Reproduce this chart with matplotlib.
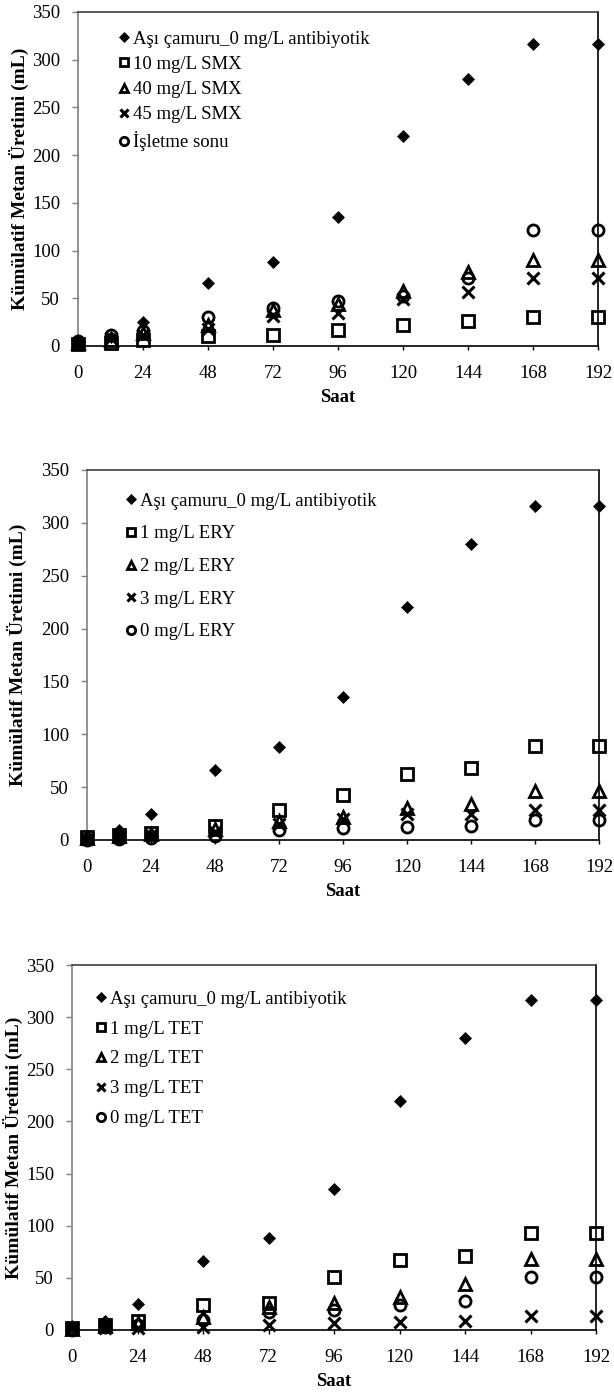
import matplotlib
matplotlib.use("Agg")
import matplotlib.pyplot as plt

plt.rcParams['font.family'] = ['Liberation Serif', 'DejaVu Serif']

saat = [0, 12, 24, 48, 72, 96, 120, 144, 168, 192]
x_ticks = [0, 24, 48, 72, 96, 120, 144, 168, 192]
y_ticks = [0, 50, 100, 150, 200, 250, 300, 350]

asi_camuru = [4, 9, 25, 66, 88, 135, 220, 280, 316, 316]

# Panel 1: SMX
smx_labels = ["Aşı çamuru_0 mg/L antibiyotik", "10 mg/L SMX", "40 mg/L SMX",
              "45 mg/L SMX", "İşletme sonu"]
smx_10 = [2, 3, 6, 10, 12, 17, 22, 26, 30, 30]
smx_40 = [3, 6, 14, 22, 38, 44, 58, 78, 90, 90]
smx_45 = [2, 8, 12, 18, 31, 35, 49, 57, 71, 71]
smx_son = [5, 12, 16, 30, 40, 47, 52, 71, 122, 122]

# Panel 2: ERY
ery_labels = ["Aşı çamuru_0 mg/L antibiyotik", "1 mg/L ERY", "2 mg/L ERY",
              "3 mg/L ERY", "0 mg/L ERY"]
ery_1 = [3, 5, 7, 13, 28, 43, 62, 68, 89, 89]
ery_2 = [2, 4, 6, 10, 18, 22, 30, 34, 46, 46]
ery_3 = [1, 3, 5, 8, 15, 20, 25, 25, 28, 28]
ery_0 = [0, 1, 2, 4, 9, 11, 12, 13, 19, 19]

# Panel 3: TET
tet_labels = ["Aşı çamuru_0 mg/L antibiyotik", "1 mg/L TET", "2 mg/L TET",
              "3 mg/L TET", "0 mg/L TET"]
tet_1 = [2, 5, 9, 24, 26, 51, 67, 71, 93, 93]
tet_2 = [1, 4, 7, 12, 22, 26, 32, 44, 68, 68]
tet_3 = [1, 2, 2, 3, 5, 7, 8, 9, 13, 13]
tet_0 = [0, 3, 5, 10, 17, 19, 24, 28, 51, 51]

W, H = 614, 1394
fig = plt.figure(figsize=(W / 100, H / 100), dpi=100)


def add_ax(left, right, top, bottom):
    return fig.add_axes([left / W, 1 - bottom / H, (right - left) / W, (bottom - top) / H])


styles = [
    dict(marker='D', markersize=6.5, markerfacecolor='black', markeredgecolor='black', markeredgewidth=0.5),
    dict(marker='s', markersize=8, markerfacecolor='none', markeredgecolor='black', markeredgewidth=2),
    dict(marker='^', markersize=8, markerfacecolor='none', markeredgecolor='black', markeredgewidth=2),
    dict(marker='x', markersize=8, markeredgecolor='black', markeredgewidth=2.2),
    dict(marker='o', markersize=8, markerfacecolor='none', markeredgecolor='black', markeredgewidth=2),
]


def panel(ax, series, labels, leg_anchor, spacing, ylab_x):
    for ys, lab, st in zip(series, labels, styles):
        ax.plot(saat, ys, linestyle='none', label=lab, clip_on=False, zorder=3, **st)
    ax.set_xlim(0, 192)
    ax.set_ylim(0, 350)
    ax.set_xticks(x_ticks)
    ax.set_yticks(y_ticks)
    ax.tick_params(axis='y', direction='out', length=4.3, width=1, labelsize=13.5,
                   color='#808080', pad=8.6)
    ax.tick_params(axis='x', direction='out', length=3, width=1, labelsize=13.5,
                   color='black', pad=10.5)
    ax.spines['left'].set_color('#808080')
    ax.spines['top'].set_color('#404040')
    ax.spines['right'].set_color('black')
    ax.spines['bottom'].set_color('black')
    for s in ax.spines.values():
        s.set_linewidth(1.2)
    ax.set_xlabel('Saat', fontsize=13.5, fontweight='bold', labelpad=5.5)
    ax.set_ylabel('Kümülatif Metan Üretimi (mL)', fontsize=14, fontweight='bold',
                  va='center')
    ax.yaxis.set_label_coords(ylab_x, 0.5)
    leg = ax.legend(loc='upper left', bbox_to_anchor=leg_anchor, frameon=False,
                    fontsize=13.5, handlelength=0.5, handletextpad=0.23,
                    labelspacing=spacing, borderpad=0, borderaxespad=0, markerscale=0.75)
    return leg


# pixel layout of each panel: left, right, top, bottom
ax1 = add_ax(78, 598, 12, 346)
panel(ax1, [asi_camuru, smx_10, smx_40, smx_45, smx_son], smx_labels,
      (0.079, 0.944), 0.43, (19 - 78) / 520)

ax2 = add_ax(87, 599, 470, 840)
panel(ax2, [asi_camuru, ery_1, ery_2, ery_3, ery_0], ery_labels,
      (0.076, 0.939), 0.83, (17 - 87) / 512)

ax3 = add_ax(72, 596, 965, 1330)
panel(ax3, [asi_camuru, tet_1, tet_2, tet_3, tet_0], tet_labels,
      (0.046, 0.930), 0.68, (13 - 72) / 524)

fig.savefig('out.png', dpi=100, facecolor='white')
